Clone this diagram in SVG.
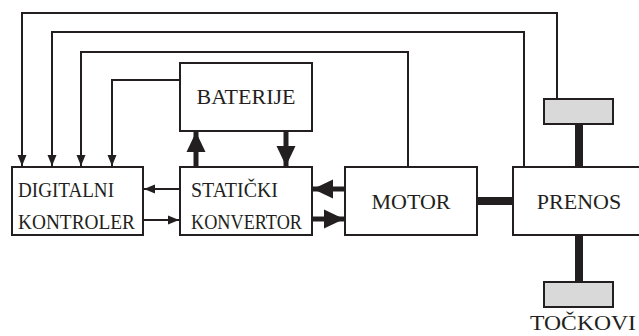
<svg xmlns="http://www.w3.org/2000/svg" width="639" height="336" viewBox="0 0 639 336">
<defs>
<style>
.box{fill:#fff;stroke:#231f20;stroke-width:2}
.gray{fill:#d9d9d9;stroke:#231f20;stroke-width:2}
.ln{fill:none;stroke:#231f20;stroke-width:2}
.thick{fill:none;stroke:#231f20;stroke-width:5}
.bar{fill:none;stroke:#231f20;stroke-width:8}
.t{font-family:"Liberation Serif","Times New Roman",serif;font-size:22px;fill:#231f20}
</style>
<marker id="a" markerUnits="userSpaceOnUse" markerWidth="12" markerHeight="12" viewBox="0 0 12 12" refX="11" refY="6" orient="auto">
<path d="M0,1.5 L11,6 L0,10.5 Z" fill="#231f20"/>
</marker>
<marker id="A" markerUnits="userSpaceOnUse" markerWidth="22" markerHeight="22" viewBox="0 0 22 22" refX="20" refY="11" orient="auto">
<path d="M0,1.5 L20,11 L0,20.5 Z" fill="#231f20"/>
</marker>
</defs>
<g id="connectors">
<path class="ln" d="M557,99 V13 H22 V166" marker-end="url(#a)"/>
<path class="ln" d="M524,167 V32 H52 V166" marker-end="url(#a)"/>
<path class="ln" d="M408,167 V52 H81 V166" marker-end="url(#a)"/>
<path class="ln" d="M180,80 H112 V166" marker-end="url(#a)"/>
<path class="ln" d="M180,189 H144" marker-end="url(#a)"/>
<path class="ln" d="M143,220 H179" marker-end="url(#a)"/>
<path class="thick" d="M196,167 V132" marker-end="url(#A)"/>
<path class="thick" d="M286,131 V166" marker-end="url(#A)"/>
<path class="thick" d="M345,189 H313" marker-end="url(#A)"/>
<path class="thick" d="M312,219 H344" marker-end="url(#A)"/>
<path class="bar" d="M477,201 H513"/>
<path class="bar" d="M579,124 V167"/>
<path class="bar" d="M579,235 V282"/>
</g>
<g id="baterije">
<rect class="box" x="180" y="63" width="132" height="68"/>
<text class="t" x="246" y="104" text-anchor="middle">BATERIJE</text>
</g>
<g id="digitalni-kontroler">
<rect class="box" x="12" y="167" width="131" height="68"/>
<text class="t" x="18" y="197" textLength="96" lengthAdjust="spacingAndGlyphs">DIGITALNI</text>
<text class="t" x="18" y="229" textLength="117" lengthAdjust="spacingAndGlyphs">KONTROLER</text>
</g>
<g id="staticki-konvertor">
<rect class="box" x="180" y="167" width="132" height="68"/>
<text class="t" x="191" y="197" textLength="87" lengthAdjust="spacingAndGlyphs">STATIČKI</text>
<text class="t" x="191" y="229" textLength="111" lengthAdjust="spacingAndGlyphs">KONVERTOR</text>
</g>
<g id="motor">
<rect class="box" x="345" y="167" width="132" height="68"/>
<text class="t" x="411" y="209" text-anchor="middle">MOTOR</text>
</g>
<g id="prenos">
<rect class="box" x="513" y="167" width="140" height="68"/>
<text class="t" x="579" y="209" text-anchor="middle">PRENOS</text>
</g>
<g id="gornji-tocak">
<rect class="gray" x="544" y="99" width="69" height="25"/>
</g>
<g id="tockovi">
<rect class="gray" x="544" y="282" width="69" height="25"/>
<text class="t" x="530" y="330" font-size="21" textLength="106" lengthAdjust="spacingAndGlyphs">TOČKOVI</text>
</g>
</svg>
